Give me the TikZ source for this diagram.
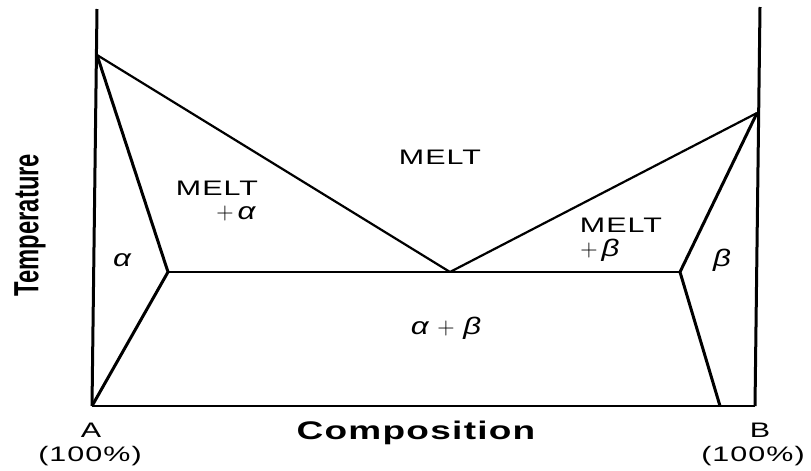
\RequirePackage{fix-cm}
\documentclass[tikz,border=0pt]{standalone}
\usepackage{fontspec}
\usepackage{tikz}
\newfontfamily\widefont[FakeStretch=1.45,LetterSpace=5]{Liberation Sans}
\newfontfamily\narrowfont[FakeStretch=0.68]{Liberation Sans}
\newfontfamily\greekfont[FakeStretch=1.3]{Liberation Sans}

\begin{document}
\begin{tikzpicture}[
    x=1pt, y=-1pt,
    axis/.style={line width=3pt},
    solvus/.style={line width=3pt, line join=round},
    liquidus/.style={line width=2.2pt, line join=round},
    tieline/.style={line width=2pt},
    lbl/.style={font=\widefont\fontsize{21}{24}\selectfont, inner sep=0pt},
    grk/.style={font=\greekfont\itshape\fontsize{24}{26}\selectfont, inner sep=0pt},
]
    \useasboundingbox (0,0) rectangle (811,471);

    % Key points of the diagram
    \coordinate (Atop) at (97,9);
    \coordinate (Aorig) at (92,406);
    \coordinate (Btop) at (760,7);
    \coordinate (Borig) at (755,406);
    \coordinate (Amelt) at (97,55);
    \coordinate (Bmelt) at (757,113);
    \coordinate (eut) at (450,272);
    \coordinate (aEnd) at (168,272);
    \coordinate (bEnd) at (680,272);
    \coordinate (bFoot) at (720,406);

    % Axes
    \draw[axis] (Atop) -- (Aorig);
    \draw[axis] (Btop) -- (Borig);
    \draw[tieline] (Aorig) -- (Borig);

    % Phase boundaries
    \draw[liquidus] (Amelt) -- (eut) -- (Bmelt);
    \draw[tieline] (aEnd) -- (bEnd);
    \draw[solvus] (Amelt) -- (aEnd) -- (Aorig);
    \draw[solvus] (Bmelt) -- (bEnd) -- (bFoot);

    % Region labels
    \node[lbl] (melt) at (440,157) {MELT};
    \node[lbl] (meltA) at (217,188) {MELT};
    \node[grk] (plusA) at (236,213) {$+$\,α};
    \node[lbl] (meltB) at (621,225) {MELT};
    \node[grk] (plusB) at (600,250) {$+$\,β};
    \node[grk] (alpha) at (122,260) {α};
    \node[grk] (beta) at (722,260) {β};
    \node[grk] (ab) at (446,328) {α $+$ β};

    % Axis labels
    \node[rotate=90, inner sep=0pt, font=\narrowfont\bfseries\fontsize{35}{40}\selectfont] (temp) at (30,225) {Temperature};
    \node[lbl, font=\widefont\bfseries\fontsize{25.5}{28}\selectfont] (comp) at (416,433) {Composition};
    \node[lbl] (A) at (91,430) {A};
    \node[lbl] (Apct) at (90,456) {(100\%)};
    \node[lbl] (B) at (760,430) {B};
    \node[lbl] (Bpct) at (753,456) {(100\%)};
\end{tikzpicture}
\end{document}
